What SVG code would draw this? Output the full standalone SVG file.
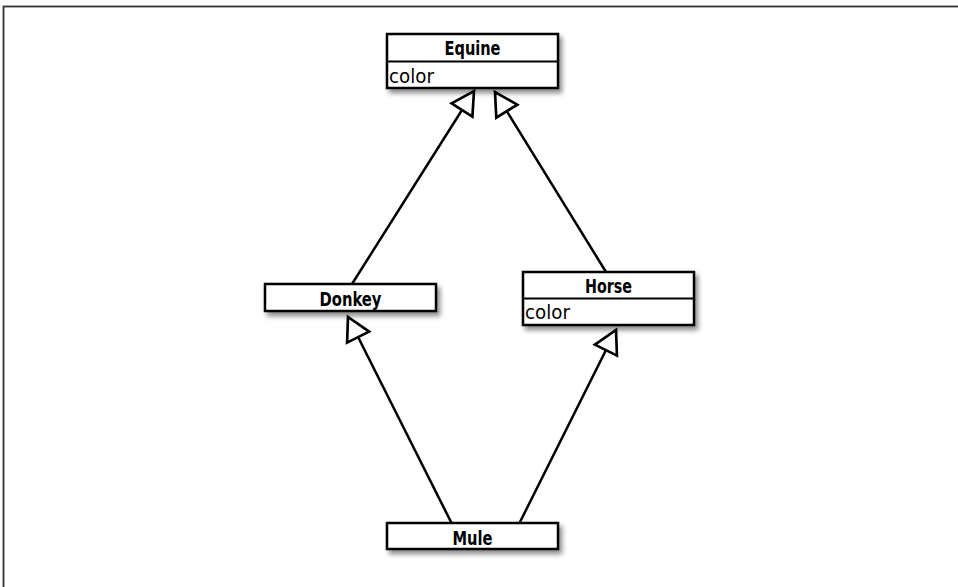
<svg xmlns="http://www.w3.org/2000/svg" width="958" height="587" viewBox="0 0 958 587">
  <style>
    .box { fill: #fff; stroke: #000; stroke-width: 2.5; }
    .div { stroke: #000; stroke-width: 2; }
    .title { font-family: "DejaVu Sans Condensed", "DejaVu Sans", sans-serif; font-stretch: condensed; font-weight: bold; font-size: 20px; text-anchor: middle; fill: #000; }
    .attr { font-family: "DejaVu Sans Condensed", "DejaVu Sans", sans-serif; font-stretch: condensed; font-size: 19px; fill: #000; }
    .edge { stroke: #000; stroke-width: 2.5; fill: none; marker-end: url(#tri); }
  </style>
  <defs>
    <filter id="sh" x="-10%" y="-30%" width="130%" height="180%">
      <feDropShadow dx="3" dy="4" stdDeviation="2.5" flood-color="#000" flood-opacity="0.45"/>
    </filter>
    <marker id="tri" markerUnits="userSpaceOnUse" markerWidth="30" markerHeight="30" viewBox="-2 -14 26 28" refX="21" refY="0" orient="auto">
      <path d="M0,-11.5 L21,0 L0,11.5 Z" fill="#fff" stroke="#000" stroke-width="2.5" stroke-linejoin="miter"/>
    </marker>
  </defs>
  <rect x="0" y="0" width="958" height="587" fill="#fff"/>
  <rect x="3.5" y="6.5" width="1000" height="700" fill="none" stroke="#333" stroke-width="1.8"/>

  <g id="connectors">
    <line class="edge" x1="352" y1="284" x2="474" y2="91"/>
    <line class="edge" x1="606" y1="272" x2="495" y2="92"/>
    <line class="edge" x1="452" y1="524" x2="348" y2="317"/>
    <line class="edge" x1="519" y1="524" x2="616" y2="330"/>
  </g>

  <g id="equine">
    <rect class="box" x="387" y="34" width="171" height="54" filter="url(#sh)"/>
    <line class="div" x1="387" y1="61.5" x2="558" y2="61.5"/>
    <text class="title" x="472.5" y="55" textLength="56" lengthAdjust="spacingAndGlyphs">Equine</text>
    <text class="attr" x="389" y="83" textLength="45" lengthAdjust="spacingAndGlyphs">color</text>
  </g>

  <g id="donkey">
    <rect class="box" x="265" y="284" width="171" height="27" filter="url(#sh)"/>
    <text class="title" x="350.5" y="306" textLength="62" lengthAdjust="spacingAndGlyphs">Donkey</text>
  </g>

  <g id="horse">
    <rect class="box" x="523" y="272" width="171" height="53" filter="url(#sh)"/>
    <line class="div" x1="523" y1="298.5" x2="694" y2="298.5"/>
    <text class="title" x="608.5" y="293" textLength="47" lengthAdjust="spacingAndGlyphs">Horse</text>
    <text class="attr" x="525" y="319" textLength="45" lengthAdjust="spacingAndGlyphs">color</text>
  </g>

  <g id="mule">
    <rect class="box" x="387" y="523" width="171" height="26" filter="url(#sh)"/>
    <text class="title" x="472.5" y="545" textLength="40" lengthAdjust="spacingAndGlyphs">Mule</text>
  </g>
</svg>
